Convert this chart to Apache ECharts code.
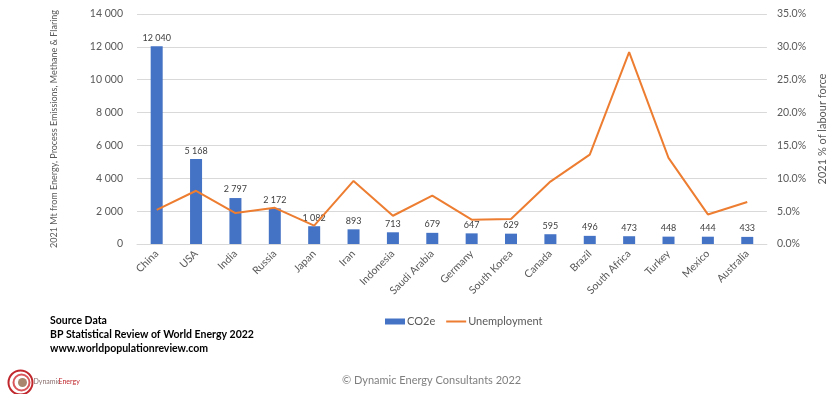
<!DOCTYPE html>
<html>
<head>
<meta charset="utf-8">
<script src="https://cdn.jsdelivr.net/npm/echarts@6/dist/echarts.min.js"></script>
<style>
  html, body { margin: 0; padding: 0; background: #fff; }
  #chart { width: 836px; height: 394px; }
</style>
</head>
<body>
<div id="chart"></div>
<script>
// Countries, ordered by 2021 CO2e emissions
const countries = ['China', 'USA', 'India', 'Russia', 'Japan', 'Iran', 'Indonesia', 'Saudi Arabia',
  'Germany', 'South Korea', 'Canada', 'Brazil', 'South Africa', 'Turkey', 'Mexico', 'Australia'];
// Mt CO2e from energy, process emissions, methane & flaring
const co2e = [12040, 5168, 2797, 2172, 1082, 893, 713, 679, 647, 629, 595, 496, 473, 448, 444, 433];
// Unemployment, % of labour force
const unemployment = [5.2, 8.1, 4.7, 5.5, 2.8, 9.6, 4.3, 7.35, 3.7, 3.8, 9.5, 13.6, 29.2, 13.1, 4.5, 6.4];
// Axis ticks
const leftTicks = { min: 0, max: 14000, step: 2000 };
const rightTicks = { min: 0, max: 35, step: 5 };

const FONT = 'Lato, "Open Sans", sans-serif';
const fmtThousands = v => String(Math.round(v)).replace(/\B(?=(\d{3})+(?!\d))/g, ' ');

const chart = echarts.init(document.getElementById('chart'), null, { renderer: 'canvas' });
chart.setOption({
  backgroundColor: '#ffffff',
  animation: false,
  textStyle: { fontFamily: FONT },
  grid: { left: 137, right: 54, top: 14, bottom: 150, containLabel: false },
  legend: {
    left: 380,
    top: 311,
    itemGap: 10,
    itemWidth: 20,
    itemHeight: 6,
    textStyle: { fontFamily: FONT, fontSize: 11, color: '#595959', padding: [0, 0, 0, -3] },
    data: [
      { name: 'CO2e', icon: 'rect' },
      { name: 'Unemployment', itemStyle: { opacity: 0 } }
    ]
  },
  xAxis: {
    type: 'category',
    data: countries,
    axisLine: { lineStyle: { color: '#D9D9D9', width: 1 } },
    axisTick: { show: false },
    axisLabel: {
      interval: 0,
      rotate: 45,
      fontSize: 10.5,
      color: '#595959',
      margin: 8,
      fontFamily: FONT
    }
  },
  yAxis: [
    {
      type: 'value',
      min: leftTicks.min,
      max: leftTicks.max,
      interval: leftTicks.step,
      name: '2021 Mt from Energy, Process Emissions, Methane & Flaring',
      nameLocation: 'middle',
      nameGap: 78,
      nameTextStyle: { fontSize: 9, color: '#595959', fontFamily: FONT },
      axisLine: { show: false },
      axisTick: { show: false },
      splitLine: { lineStyle: { color: '#D9D9D9', width: 1 } },
      axisLabel: {
        fontSize: 10.5,
        color: '#595959',
        margin: 14,
        fontFamily: FONT,
        formatter: v => fmtThousands(v)
      }
    },
    {
      type: 'value',
      min: rightTicks.min,
      max: rightTicks.max,
      interval: rightTicks.step,
      name: '2021 % of labour force',
      nameLocation: 'middle',
      nameGap: 50,
      nameRotate: 90,
      nameTextStyle: { fontSize: 11, color: '#595959', fontFamily: FONT },
      axisLine: { show: false },
      axisTick: { show: false },
      splitLine: { show: false },
      axisLabel: {
        fontSize: 10.5,
        color: '#595959',
        margin: 10,
        fontFamily: FONT,
        formatter: v => v.toFixed(1) + '%'
      }
    }
  ],
  series: [
    {
      name: 'CO2e',
      type: 'bar',
      data: co2e,
      yAxisIndex: 0,
      barWidth: 12,
      itemStyle: { color: '#4472C4' },
      label: {
        show: true,
        position: 'top',
        distance: 4,
        fontSize: 9,
        color: '#404040',
        fontFamily: FONT,
        formatter: p => fmtThousands(p.value)
      }
    },
    {
      name: 'Unemployment',
      type: 'line',
      data: unemployment,
      yAxisIndex: 1,
      symbol: 'none',
      lineStyle: { color: '#ED7D31', width: 2 },
      itemStyle: { color: '#ED7D31' },
      z: 3
    }
  ],
  graphic: [
    {
      type: 'group',
      left: 50,
      top: 315,
      children: [
        { type: 'text', x: 0, y: 0, style: { text: 'Source Data', font: 'bold 10.5px ' + FONT, fill: '#000' } },
        { type: 'text', x: 0, y: 14, style: { text: 'BP Statistical Review of World Energy 2022', font: 'bold 10.5px ' + FONT, fill: '#000' } },
        { type: 'text', x: 0, y: 28, style: { text: 'www.worldpopulationreview.com', font: 'bold 10.5px ' + FONT, fill: '#000' } }
      ]
    },
    {
      type: 'text',
      left: 342,
      top: 375,
      style: { text: '© Dynamic Energy Consultants 2022', font: '11px ' + FONT, fill: '#7F7F7F' }
    },
    {
      type: 'group',
      left: 6,
      top: 368,
      children: [
        { type: 'circle', shape: { cx: 14, cy: 15, r: 12 }, style: { fill: 'none', stroke: '#C0282D', lineWidth: 2 } },
        { type: 'circle', shape: { cx: 15, cy: 15, r: 8 }, style: { fill: 'none', stroke: '#D9575B', lineWidth: 2 } },
        { type: 'circle', shape: { cx: 16, cy: 15, r: 4.5 }, style: { fill: '#A9876E' } },
        { type: 'text', x: 27, y: 11, style: { text: 'Dynamic', font: '7px ' + FONT, fill: '#8A6E6E' } },
        { type: 'text', x: 52, y: 11, style: { text: 'Energy', font: '7px ' + FONT, fill: '#C0282D' } }
      ]
    }
  ]
});
</script>
</body>
</html>
